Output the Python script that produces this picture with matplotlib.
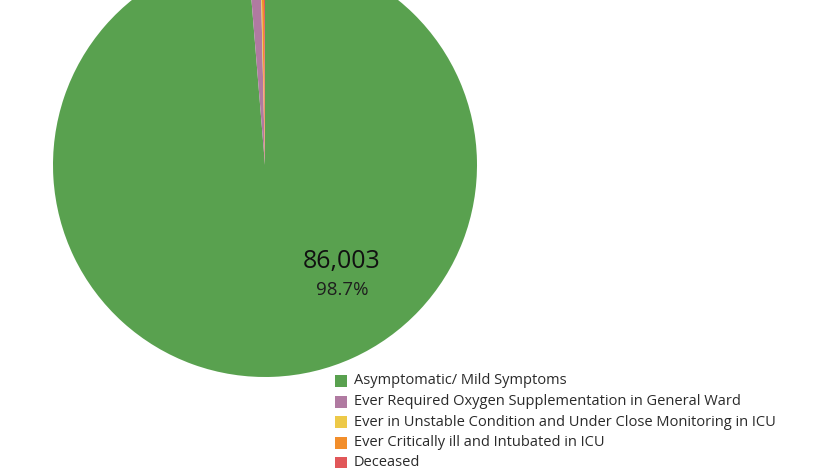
import matplotlib.pyplot as plt
from matplotlib.patches import Rectangle

categories = ['Asymptomatic/ Mild Symptoms',
              'Ever Required Oxygen Supplementation in General Ward',
              'Ever in Unstable Condition and Under Close Monitoring in ICU',
              'Ever Critically ill and Intubated in ICU',
              'Deceased']
counts = [86003, 820, 60, 170, 84]
colors = ['#59a14f', '#b07aa1', '#edc948', '#f28e2b', '#e15759']

plt.rcParams['font.family'] = ['Open Sans', 'DejaVu Sans']

fig = plt.figure(figsize=(8.3, 4.68), dpi=100)
# pie centre ~ (265, 165) px, radius ~ 212 px
ax = fig.add_axes([53 / 830, (468 - 165 - 212) / 468, 424 / 830, 424 / 468])
ax.pie(counts, colors=colors, startangle=90, counterclock=False, radius=1,
       wedgeprops=dict(linewidth=0))
ax.set_xlim(-1, 1)
ax.set_ylim(-1, 1)
ax.set_aspect('equal')
ax.axis('off')

total = sum(counts)
ax.text(0.363, -0.455, f'{counts[0]:,}', ha='center', va='center', fontsize=18, color='#111111')
ax.text(0.363, -0.59, f'{counts[0] / total * 100:.1f}%', ha='center', va='center', fontsize=13.5,
        color='#1e1e1e')

# legend
for i, (lab, c) in enumerate(zip(categories, colors)):
    yc = 381 + i * 20.5
    fig.add_artist(Rectangle((335 / 830, 1 - (yc + 6) / 468), 12 / 830, 12 / 468,
                             transform=fig.transFigure, color=c, lw=0))
    fig.text(354 / 830, 1 - yc / 468, lab, ha='left', va='center', fontsize=10.5, color='#2a2a2a')

fig.savefig('out.png', dpi=100)
